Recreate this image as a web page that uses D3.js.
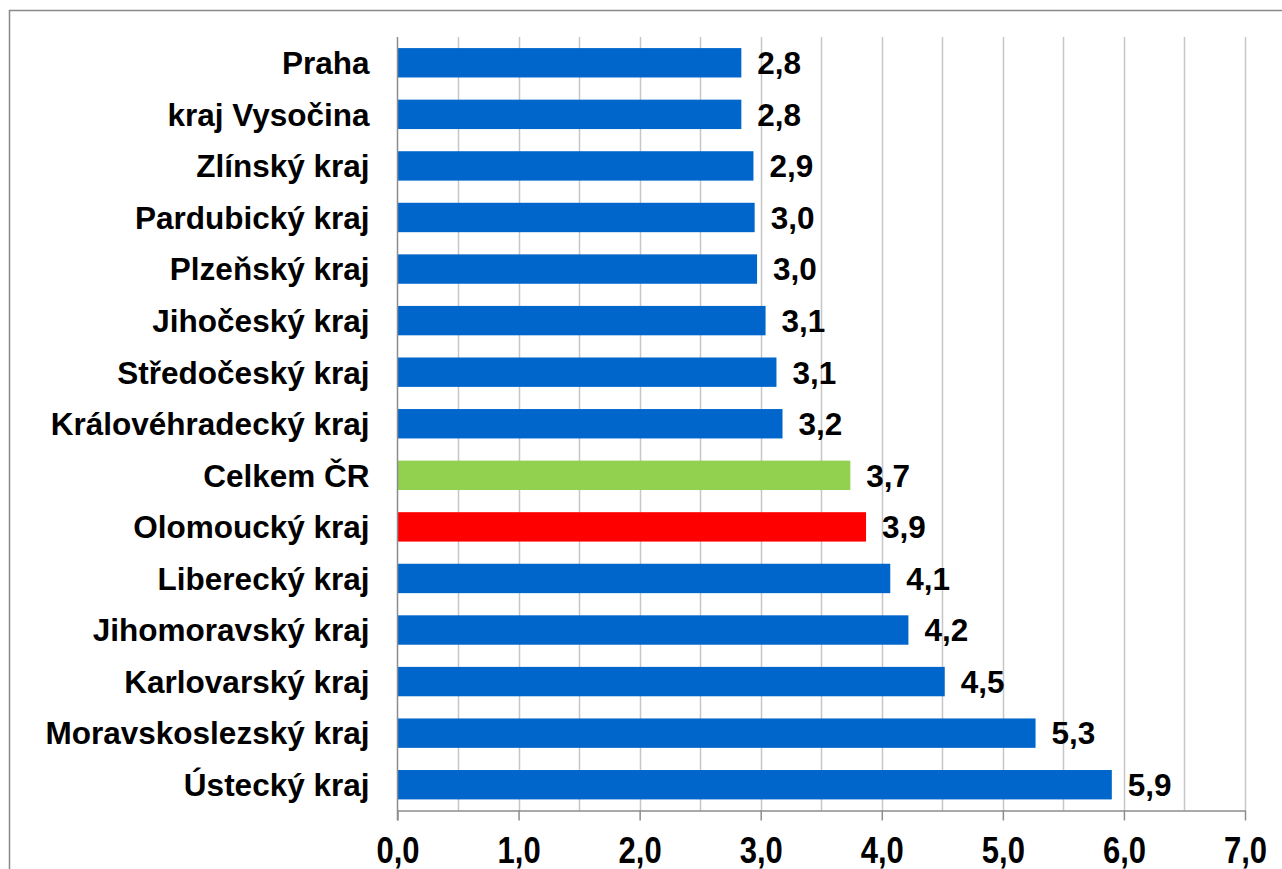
<!DOCTYPE html>
<html>
<head>
<meta charset="utf-8">
<script src="https://cdn.jsdelivr.net/npm/d3@7"></script>
<style>
* { box-sizing:border-box; }
body { margin:0; background:#fff; }
text { font-family:"Liberation Sans", Arial, sans-serif; font-weight:bold; fill:#000; }
</style>
</head>
<body>
<div id="chart"></div>
<script>
// data
var regions = ["Praha", "kraj Vysočina", "Zlínský kraj", "Pardubický kraj", "Plzeňský kraj",
  "Jihočeský kraj", "Středočeský kraj", "Královéhradecký kraj", "Celkem ČR", "Olomoucký kraj",
  "Liberecký kraj", "Jihomoravský kraj", "Karlovarský kraj", "Moravskoslezský kraj", "Ústecký kraj"];
var values = [2.84, 2.84, 2.94, 2.95, 2.97, 3.04, 3.13, 3.18, 3.74, 3.87, 4.07, 4.22, 4.52, 5.27, 5.90];
var labels = ["2,8", "2,8", "2,9", "3,0", "3,0", "3,1", "3,1", "3,2", "3,7", "3,9", "4,1", "4,2", "4,5", "5,3", "5,9"];
var xTicks = [0, 1, 2, 3, 4, 5, 6, 7];
var xTickLabels = ["0,0", "1,0", "2,0", "3,0", "4,0", "5,0", "6,0", "7,0"];
var gridVals = [0.5, 1, 1.5, 2, 2.5, 3, 3.5, 4, 4.5, 5, 5.5, 6, 6.5, 7];

var W = 1282, H = 869;
var plotLeft = 397.5, plotRight = 1245, plotTop = 37, plotBottom = 810.5;

var svg = d3.select("#chart").append("svg")
  .attr("width", W).attr("height", H);

// outer frame (runs off the page on right and bottom)
svg.append("rect")
  .attr("x", 9.5).attr("y", 10.5)
  .attr("width", 1300).attr("height", 900)
  .attr("fill", "none").attr("stroke", "#898989").attr("stroke-width", 1.5);

var x = d3.scaleLinear().domain([0, 7]).range([plotLeft, plotRight]);
var y = d3.scaleBand().domain(regions).range([plotTop, plotBottom])
  .paddingInner(0.43).paddingOuter(0.215);

// gridlines
svg.append("g").selectAll("line")
  .data(gridVals).enter().append("line")
    .attr("x1", function(d) { return Math.round(x(d)) + 0.5; })
    .attr("x2", function(d) { return Math.round(x(d)) + 0.5; })
    .attr("y1", plotTop).attr("y2", plotBottom)
    .attr("stroke", "#c6c6c6").attr("stroke-width", 1.5);

// bars
svg.append("g").selectAll("rect")
  .data(regions).enter().append("rect")
    .attr("x", x(0))
    .attr("y", function(d) { return y(d); })
    .attr("width", function(d, i) { return x(values[i]) - x(0); })
    .attr("height", y.bandwidth())
    .attr("fill", function(d) {
      if (d == "Celkem ČR") return "#92d050";
      if (d == "Olomoucký kraj") return "#ff0000";
      return "#0066cc";
    });

// value labels
svg.append("g").selectAll("text")
  .data(regions).enter().append("text")
    .attr("x", function(d, i) { return x(values[i]) + 16; })
    .attr("y", function(d) { return y(d) + y.bandwidth() / 2; })
    .attr("dy", "0.36em")
    .style("font-size", "31.5px")
    .text(function(d, i) { return labels[i]; });

// category labels
var yAxis = svg.append("g")
  .attr("transform", "translate(" + plotLeft + ",0)")
  .call(d3.axisLeft(y).tickSize(0).tickPadding(28));
yAxis.select(".domain").remove();
yAxis.selectAll("text").style("font-size", "31.5px").attr("dy", "0.36em");

// left axis line
svg.append("line")
  .attr("x1", plotLeft).attr("x2", plotLeft)
  .attr("y1", plotTop).attr("y2", plotBottom + 10)
  .attr("stroke", "#8c8c8c").attr("stroke-width", 1.5);

// x axis
var xAxis = svg.append("g")
  .attr("transform", "translate(0," + plotBottom + ")")
  .call(d3.axisBottom(x).tickValues(xTicks).tickSize(10).tickSizeOuter(0)
    .tickFormat(function(d, i) { return xTickLabels[i]; }));
xAxis.select(".domain").attr("stroke", "#8c8c8c").attr("stroke-width", 1.5);
xAxis.selectAll("line").attr("stroke", "#8c8c8c").attr("stroke-width", 1.5);
// tick labels are a little taller in the original
xAxis.selectAll("text")
  .style("font-size", "31px")
  .attr("y", 0).attr("dy", 0)
  .attr("transform", "translate(0,52) scale(1,1.19)");
</script>
</body>
</html>
